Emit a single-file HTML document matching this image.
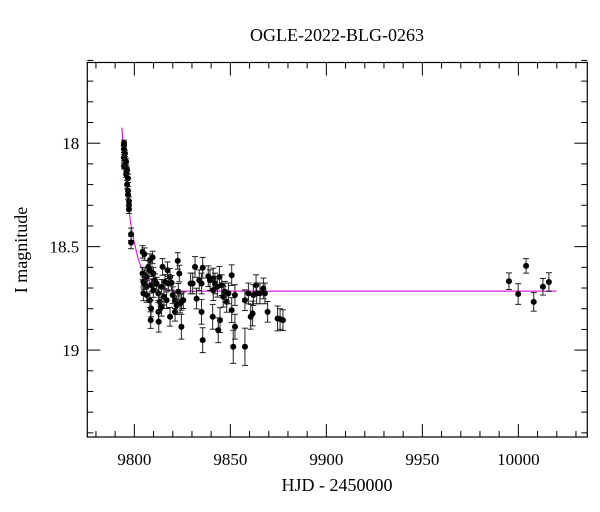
<!DOCTYPE html>
<html><head><meta charset="utf-8"><style>
html,body{margin:0;padding:0;background:#fff;width:600px;height:512px;overflow:hidden}
svg{display:block}
text{font-family:"Liberation Serif",serif;fill:#000}
</style></head><body>
<svg id="chart" width="600" height="512" viewBox="0 0 600 512" xmlns="http://www.w3.org/2000/svg">
<text x="337" y="41" font-size="18" text-anchor="middle">OGLE-2022-BLG-0263</text>
<text x="337" y="491" font-size="18" text-anchor="middle">HJD - 2450000</text>
<text x="0" y="0" font-size="18" text-anchor="middle" transform="translate(27,250) rotate(-90)">I magnitude</text>
<g id="ticks"></g>
<g id="model"></g>
<g id="pts"></g>
<rect x="87.3" y="62.5" width="500" height="374.5" fill="none" stroke="#000" stroke-width="1.2"/>
</svg>
<script>
const hjd=[9794.6,9794.6,9794.6,9795.1,9794.6,9795.1,9794.6,9795.7,9795.7,9796.2,9795.7,9796.7,9796.2,9796.7,9796.7,9797.2,9797.2,9797.2,9798.3,9798.3,
9804.3,9805.2,9808.1,9807.3,9809.5,9804.3,9805.5,9806.4,9808.1,9809.9,9804.7,9805.0,9806.4,9809.0,9810.7,9811.6,9814.7,9817.3,9818.6,9822.6,9823.4,
9804.7,9806.4,9808.1,9809.9,9812.5,9814.2,9816.0,9817.7,9819.4,9813.3,9815.4,9816.8,9820.0,9821.2,9822.9,9824.6,9825.5,9808.7,9808.5,9812.5,9814.2,
9818.6,9821.2,9822.0,9823.8,9812.7,9824.5,9829.3,9830.4,9831.6,9832.4,9833.8,9835.0,9835.6,9835.0,9835.6,9838.5,9839.4,9841.1,9841.1,9842.0,9843.2,
9844.3,9845.5,9846.3,9847.2,9848.1,9840.8,9844.6,9843.7,9849.0,9850.7,9850.7,9851.5,9852.4,9852.4,9857.6,9857.6,9859.4,9860.6,9861.6,9862.0,9863.4,
9863.7,9865.4,9867.2,9868.0,9869.4,9874.6,9875.9,9877.4,
9995.1,9999.9,10004.0,10008.0,10012.8,10015.9];
const mag=[18.00,18.01,18.03,18.05,18.07,18.08,18.11,18.09,18.12,18.13,18.15,18.17,18.20,18.23,18.25,18.28,18.30,18.32,18.44,18.48,
18.525,18.536,18.565,18.598,18.552,18.630,18.638,18.646,18.614,18.630,18.670,18.678,18.694,18.686,18.662,18.678,18.598,18.614,18.646,18.569,18.630,
18.726,18.734,18.759,18.710,18.726,18.694,18.670,18.678,18.675,18.767,18.742,18.759,18.734,18.759,18.718,18.767,18.759,18.799,18.855,18.815,18.791,
18.839,18.815,18.783,18.775,18.863,18.887,18.678,18.678,18.598,18.751,18.662,18.678,18.602,18.815,18.952,18.643,18.662,18.654,18.710,18.678,18.694,
18.646,18.686,18.742,18.718,18.767,18.839,18.855,18.904,18.726,18.638,18.807,18.984,18.734,18.887,18.759,18.984,18.726,18.839,18.823,18.734,18.686,
18.726,18.726,18.702,18.726,18.815,18.847,18.850,18.855,
18.667,18.729,18.593,18.767,18.694,18.671];
const err=[0.015,0.015,0.015,0.015,0.015,0.015,0.015,0.015,0.015,0.015,0.015,0.02,0.02,0.02,0.02,0.02,0.02,0.02,0.03,0.03,
0.03,0.03,0.03,0.03,0.03,0.03,0.03,0.03,0.03,0.03,0.03,0.03,0.03,0.03,0.03,0.03,0.04,0.04,0.04,0.04,0.04,
0.035,0.035,0.035,0.035,0.035,0.035,0.035,0.035,0.035,0.04,0.04,0.04,0.04,0.04,0.04,0.04,0.04,0.04,0.04,0.045,0.045,
0.045,0.045,0.045,0.045,0.05,0.06,0.05,0.05,0.05,0.05,0.05,0.05,0.05,0.06,0.06,0.05,0.05,0.05,0.05,0.05,0.05,
0.05,0.05,0.05,0.05,0.05,0.06,0.06,0.06,0.05,0.05,0.06,0.08,0.05,0.06,0.05,0.09,0.05,0.06,0.06,0.05,0.05,
0.05,0.05,0.05,0.05,0.05,0.06,0.05,0.05,
0.04,0.05,0.035,0.045,0.04,0.045];
const modelT=[9793.5,9795,9796,9797,9798,9799,9800,9802,9804,9806,9808,9812,9816,9820,10019.8];
const modelM=[17.925,18.12,18.22,18.31,18.38,18.44,18.48,18.56,18.61,18.64,18.67,18.69,18.71,18.715,18.715];
const xTicks=[9800,9850,9900,9950,10000];
const yTicks=[18,18.5,19];

const X0=87.3,X1=587.3,Y0=62.5,Y1=437;
const xMin=9775.5,xMax=10035.9,yMin=17.61,yMax=19.42;
const sx=v=>X0+(v-xMin)/(xMax-xMin)*(X1-X0);
const sy=v=>Y0+(v-yMin)/(yMax-yMin)*(Y1-Y0);
const NS='http://www.w3.org/2000/svg';
function mk(tag,attrs,parent){const e=document.createElementNS(NS,tag);for(const k in attrs)e.setAttribute(k,attrs[k]);parent.appendChild(e);return e;}
const tg=document.getElementById('ticks');
// x ticks
for(let v=9780;v<=10030;v+=10){
  const maj=v%50===0, L=maj?13:6, x=sx(v);
  const a=mk('line',{x1:x,x2:x,y1:Y1,y2:Y1-L,stroke:'#000','stroke-width':1},tg);
  
  
  const b=mk('line',{x1:x,x2:x,y1:Y0,y2:Y0+L,stroke:'#000','stroke-width':1},tg);
  
  
}
xTicks.forEach(v=>{
  const t=mk('text',{x:sx(v),y:Y1+28,'font-size':17,'text-anchor':'middle'},tg);
  t.textContent=v;
  
  
});
for(let i=7;i<=94;i++){
  const v=i/5/10*10/10; const val=i/50; const m=17+val*1; 
  const yv=17+i/50*1;
  const y=sy(17+i*0.02*1); 
}
for(let k=0;k<=19;k++){
  const v=17.6+k*0.1; if(v>19.42) break;
  const maj=Math.abs(v*2-Math.round(v*2))<1e-6, L=maj?13:6, y=sy(v);
  const a=mk('line',{x1:X0,x2:X0+L,y1:y,y2:y,stroke:'#000','stroke-width':1},tg);
  
  
  const b=mk('line',{x1:X1,x2:X1-L,y1:y,y2:y,stroke:'#000','stroke-width':1},tg);
  
  
}
yTicks.forEach(v=>{
  const t=mk('text',{x:X0-8,y:sy(v)+6,'font-size':17,'text-anchor':'end'},tg);
  t.textContent=v;
  
  
});
// model
const mg=document.getElementById('model');
const pl=mk('polyline',{points:modelT.map((t,i)=>sx(t).toFixed(1)+','+sy(modelM[i]).toFixed(1)).join(' '),fill:'none',stroke:'#e020e0','stroke-width':1.2},mg);


// points
const pg=document.getElementById('pts');
hjd.forEach((t,i)=>{
  const x=sx(t),y=sy(mag[i]),ya=sy(mag[i]-err[i]),yb=sy(mag[i]+err[i]);
  const g=mk('g',{},pg);
  
  
  mk('line',{x1:x,x2:x,y1:ya,y2:yb,stroke:'#222','stroke-width':1},g);
  mk('line',{x1:x-3,x2:x+3,y1:ya,y2:ya,stroke:'#222','stroke-width':1},g);
  mk('line',{x1:x-3,x2:x+3,y1:yb,y2:yb,stroke:'#222','stroke-width':1},g);
  mk('circle',{cx:x,cy:y,r:3,fill:'#000'},g);
});
</script>
</body></html>
